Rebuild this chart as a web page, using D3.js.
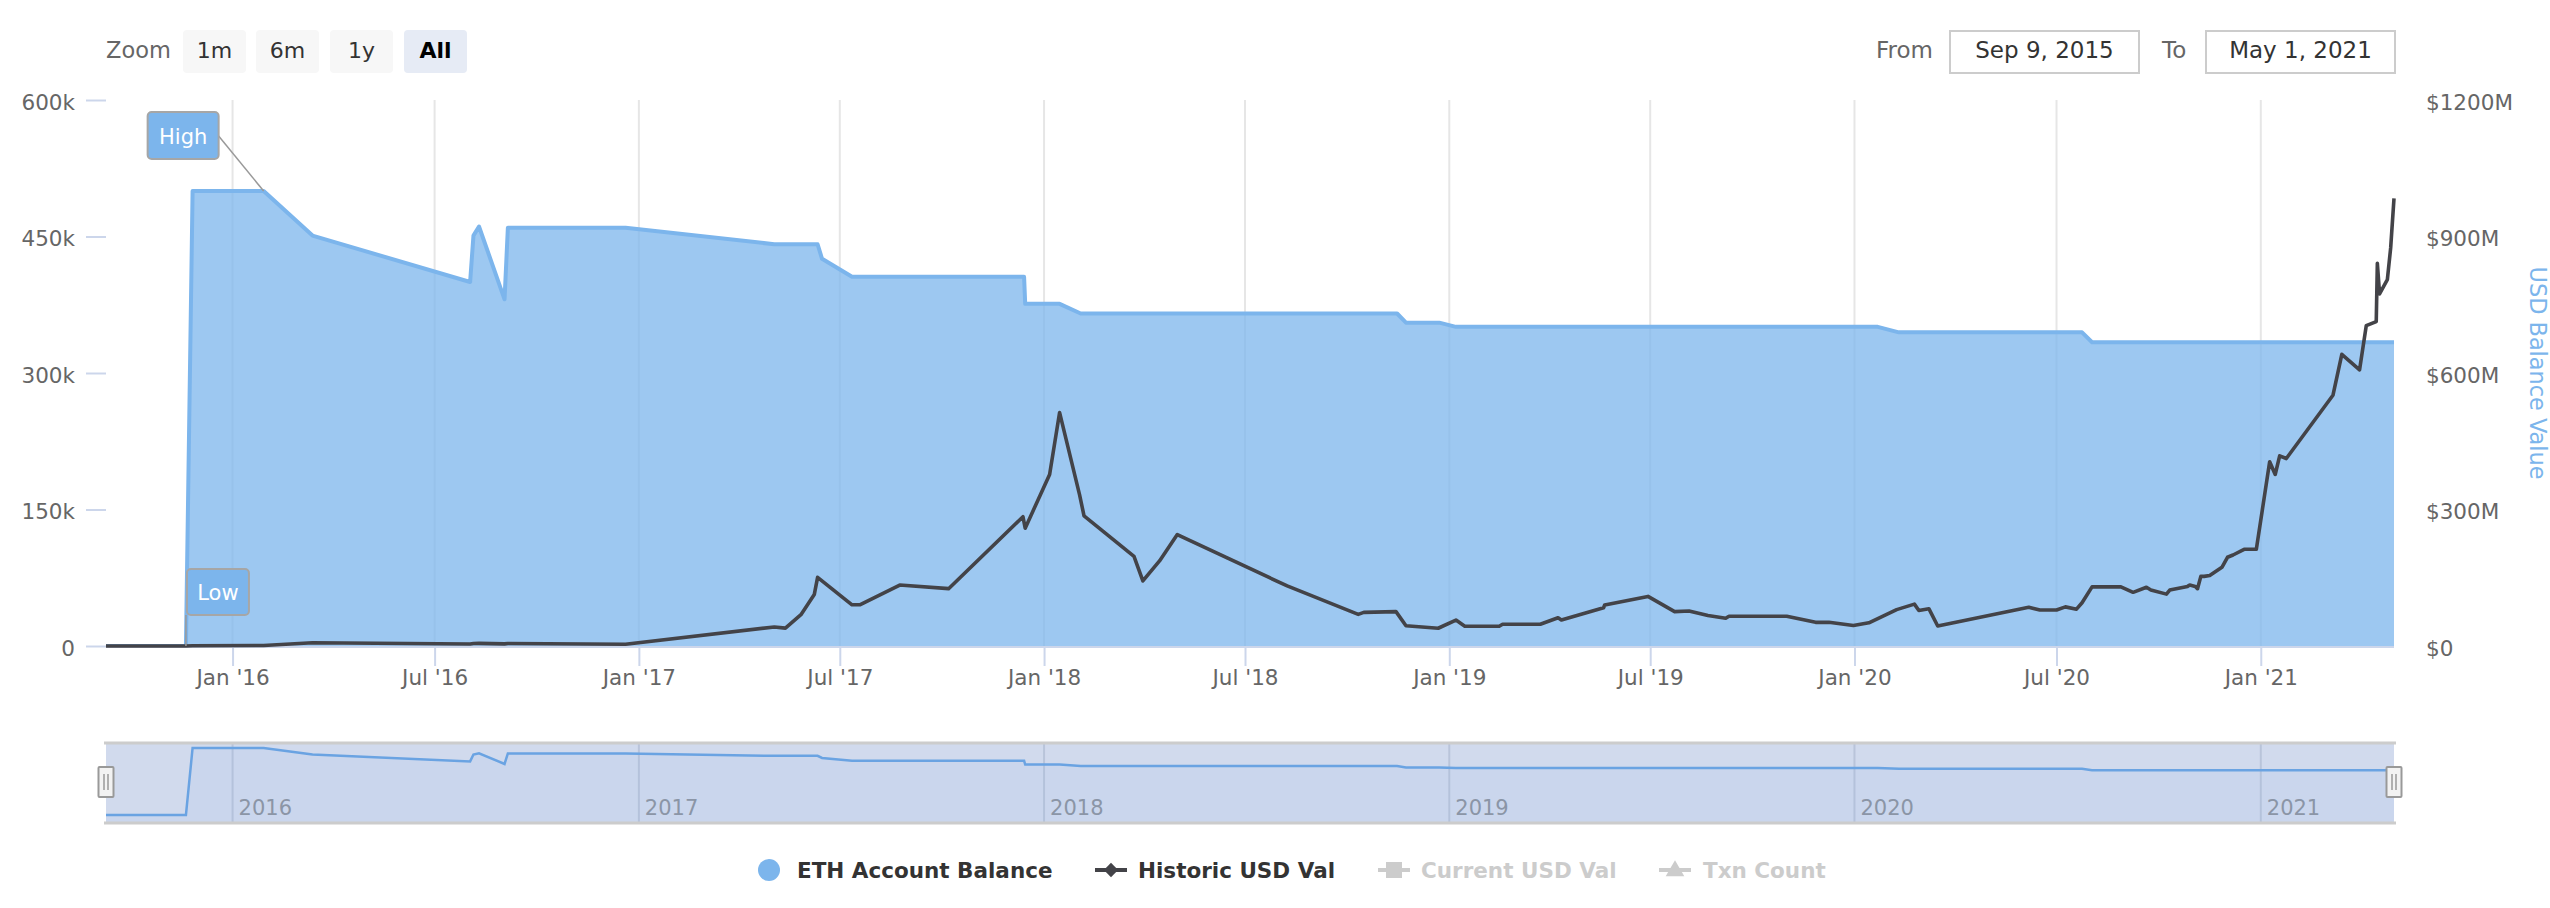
<!DOCTYPE html>
<html><head><meta charset="utf-8">
<script src="https://cdn.jsdelivr.net/npm/d3@7"></script>
<style>
html,body{margin:0;padding:0;background:#fff;}
svg{display:block;font-family:"DejaVu Sans",sans-serif;}
</style></head><body>
<svg id="chart" width="2550" height="908"></svg>
<script>
// ---------------- data ----------------
const ethDates = ["2015-09-09","2015-11-20","2015-11-26","2016-01-29","2016-03-13","2016-08-02","2016-08-05","2016-08-10","2016-09-02","2016-09-05","2016-12-20","2017-05-03","2017-06-11","2017-06-15","2017-07-12","2017-12-14","2017-12-15","2018-01-15","2018-02-03","2018-11-15","2018-11-23","2018-12-23","2019-01-07","2020-01-22","2020-02-10","2020-07-24","2020-08-02","2021-05-01"];
const ethValues = [0,0,500000,500000,451000,400000,451000,461000,381000,459500,459500,441500,441500,425500,405700,405700,376000,376000,365400,365400,355300,355300,350700,350700,344700,344700,333800,333800];

const usdDates = ["2015-09-09","2015-11-20","2015-11-26","2016-01-29","2016-03-13","2016-08-02","2016-08-05","2016-08-10","2016-09-02","2016-09-05","2016-12-20",
"2017-05-03","2017-05-13","2017-05-27","2017-06-08","2017-06-11","2017-07-12","2017-07-19","2017-08-24","2017-10-07","2017-12-13","2017-12-15",
"2018-01-06","2018-01-15","2018-02-02","2018-02-06","2018-03-23","2018-03-31","2018-04-15","2018-05-01","2018-08-08","2018-10-11","2018-10-16","2018-11-14","2018-11-23","2018-12-22",
"2019-01-07","2019-01-15","2019-02-15","2019-02-18","2019-03-24","2019-04-09","2019-04-12","2019-05-20","2019-05-21","2019-06-29","2019-07-23","2019-08-05","2019-08-22","2019-09-07","2019-09-10","2019-11-01","2019-11-27","2019-12-09","2019-12-31",
"2020-01-14","2020-02-08","2020-02-24","2020-02-28","2020-03-08","2020-03-16","2020-06-06","2020-06-16","2020-07-01","2020-07-09","2020-07-19","2020-07-24","2020-08-02","2020-08-28","2020-09-08","2020-09-20","2020-09-24","2020-10-08","2020-10-11","2020-10-27","2020-10-29","2020-11-03","2020-11-05","2020-11-08","2020-11-11","2020-11-16","2020-11-27","2020-12-02","2020-12-07","2020-12-17","2020-12-28",
"2021-01-09","2021-01-14","2021-01-18","2021-01-24","2021-03-07","2021-03-15","2021-03-31","2021-04-06","2021-04-15","2021-04-16","2021-04-18","2021-04-25","2021-04-28","2021-05-01"];
// USD value in millions
const usdValues = [0,0,0.5,1.2,7,4.5,5.5,5.8,4.6,5.6,4,
41.8,39.3,68.8,113,151,90.5,90.5,134,126,284,259,
377,513,332,286,197,143,187,245,132,69.6,73.8,75.6,44.4,39,
57,43.5,43.5,47.7,47.7,62,57,84,90,109,75.6,77,67,61,65.5,65.5,52,52,45,
51,80,92,78,82,44,85,79,79,86,81,95,130,130,118,129,123,114,123,131,134,131,126,153,153,155,173,195,200,212.5,212.5,
405,377,418,412,551,641,607,704,713,841,774,805,875,984];

const leftTicks = [0,150000,300000,450000,600000];
const leftTickLabels = ["0","150k","300k","450k","600k"];
const rightTicks = [0,300,600,900,1200];
const rightTickLabels = ["$0","$300M","$600M","$900M","$1200M"];
const navYearLabels = ["2016","2017","2018","2019","2020","2021"];
const zoomButtons = ["1m","6m","1y","All"];
const rangeLabels = ["From","To"];
const rangeValues = ["Sep 9, 2015","May 1, 2021"];
const legendNames = ["ETH Account Balance","Historic USD Val","Current USD Val","Txn Count"];
const rightAxisTitle = "USD Balance Value";
const annotationTexts = ["High","Low"];

// ---------------- setup ----------------
const parse = d3.utcParse("%Y-%m-%d");
const eth = ethDates.map((d,i)=>({date:parse(d), v:ethValues[i]}));
const usd = usdDates.map((d,i)=>({date:parse(d), v:usdValues[i]}));

const svg = d3.select("#chart");
const L = 106, R = 2394, T = 100, B = 646;
const x = d3.scaleUtc().domain([parse("2015-09-09"), parse("2021-05-01")]).range([L, R]);
const yL = d3.scaleLinear().domain([0,600000]).range([B, T]);
const yR = d3.scaleLinear().domain([0,1200]).range([B, T]);

const txtColor = "#666666";
const fs = 21.5;

// ---------------- range selector ----------------
const rs = svg.append("g");
rs.append("text").attr("x",106).attr("y",58).attr("fill",txtColor).attr("font-size",22.5).text("Zoom");
const btnX = [183,256,330,404];
zoomButtons.forEach((b,i)=>{
  const sel = b === "All";
  rs.append("rect").attr("x",btnX[i]).attr("y",30).attr("width",63).attr("height",43).attr("rx",4)
    .attr("fill", sel ? "#e6ebf5" : "#f7f7f7");
  rs.append("text").attr("x",btnX[i]+31.5).attr("y",58).attr("text-anchor","middle")
    .attr("font-size",22).attr("fill", sel ? "#000000" : "#333333").attr("font-weight", sel ? "bold" : "normal").text(b);
});
rs.append("text").attr("x",1876).attr("y",58).attr("fill",txtColor).attr("font-size",23).text(rangeLabels[0]);
rs.append("text").attr("x",2162).attr("y",58).attr("fill",txtColor).attr("font-size",23).text(rangeLabels[1]);
[[1950,rangeValues[0]],[2206,rangeValues[1]]].forEach(([bx,t])=>{
  rs.append("rect").attr("x",bx).attr("y",31).attr("width",189).attr("height",42)
    .attr("fill","#fff").attr("stroke","#cccccc").attr("stroke-width",2);
  rs.append("text").attr("x",bx+94.5).attr("y",58).attr("text-anchor","middle").attr("font-size",23)
    .attr("fill","#333333").text(t);
});

// ---------------- gridlines ----------------
const xTicks = x.ticks(d3.utcMonth.every(6));
svg.append("g").selectAll("line").data(xTicks).join("line")
  .attr("x1",d=>x(d)).attr("x2",d=>x(d)).attr("y1",T).attr("y2",B)
  .attr("stroke","#e6e6e6").attr("stroke-width",2);

// ---------------- series ----------------
const area = d3.area().x(d=>x(d.date)).y0(yL(0)).y1(d=>yL(d.v));
svg.append("path").datum(eth).attr("d",area).attr("fill","rgba(124,181,236,0.75)");
svg.append("path").datum(eth).attr("d",d3.line().x(d=>x(d.date)).y(d=>yL(d.v)))
  .attr("fill","none").attr("stroke","#7cb5ec").attr("stroke-width",4).attr("stroke-linejoin","round");

// x axis
const xAxis = d3.axisBottom(x).tickValues(xTicks).tickFormat(d3.utcFormat("%b '%y")).tickSize(20).tickPadding(4);
const gx = svg.append("g").attr("transform",`translate(0,${B})`).call(xAxis);
gx.select(".domain").remove();
gx.selectAll("line").attr("stroke","#ccd6eb").attr("stroke-width",2);
gx.selectAll("text").attr("fill",txtColor).attr("font-size",fs).attr("font-family","DejaVu Sans");
svg.append("line").attr("x1",L).attr("x2",R).attr("y1",B+1).attr("y2",B+1).attr("stroke","#ccd6eb").attr("stroke-width",2);

svg.append("path").datum(usd).attr("d",d3.line().x(d=>x(d.date)).y(d=>yR(d.v)))
  .attr("fill","none").attr("stroke","#434348").attr("stroke-width",3.6).attr("stroke-linejoin","round");

// left axis
const yAxisL = d3.axisLeft(yL).tickValues(leftTicks).tickFormat((d,i)=>leftTickLabels[i]).tickSize(20).tickPadding(11);
const gl = svg.append("g").attr("transform",`translate(${L},0)`).call(yAxisL);
gl.select(".domain").remove();
gl.selectAll("line").attr("stroke","#ccd6eb").attr("stroke-width",2);
gl.selectAll("text").attr("fill",txtColor).attr("font-size",fs).attr("font-family","DejaVu Sans").attr("dy","0.44em");

// right axis
const yAxisR = d3.axisRight(yR).tickValues(rightTicks).tickFormat((d,i)=>rightTickLabels[i]).tickSize(0).tickPadding(32);
const gr = svg.append("g").attr("transform",`translate(${R},0)`).call(yAxisR);
gr.select(".domain").remove();
gr.selectAll("text").attr("fill",txtColor).attr("font-size",fs).attr("font-family","DejaVu Sans").attr("dy","0.44em");
svg.append("text").attr("transform",`translate(2530,${(T+B)/2}) rotate(90)`).attr("text-anchor","middle")
  .attr("font-size",22.4).attr("fill","#7cb5ec").text(rightAxisTitle);

// ---------------- annotations ----------------
const maxV = d3.max(eth,d=>d.v);
let hiIdx = 0; eth.forEach((d,i)=>{ if(d.v===maxV) hiIdx=i; });
let loIdx = 0; eth.forEach((d,i)=>{ if(i<hiIdx && d.v===0) loIdx=i; });
const hp = eth[hiIdx], lp = eth[loIdx];
const hx = x(hp.date), hy = yL(hp.v), lx = x(lp.date), ly = yL(lp.v);
const ann = svg.append("g");
ann.append("path").attr("d",`M${hx-45},${hy-55}L${hx},${hy}`).attr("stroke","#999999").attr("stroke-width",1.5).attr("fill","none");
ann.append("rect").attr("x",hx-116).attr("y",hy-79).attr("width",71).attr("height",47).attr("rx",4)
  .attr("fill","#7cb5ec").attr("stroke","#a6a6a6").attr("stroke-width",2);
ann.append("text").attr("x",hx-80.5).attr("y",hy-47).attr("text-anchor","middle").attr("fill","#fff").attr("font-size",21).text(annotationTexts[0]);
ann.append("path").attr("d",`M${lx},${ly-31}L${lx},${ly}`).attr("stroke","#999999").attr("stroke-width",1.5).attr("fill","none");
ann.append("rect").attr("x",lx+1).attr("y",ly-77).attr("width",62).attr("height",46).attr("rx",4)
  .attr("fill","#7cb5ec").attr("stroke","#a6a6a6").attr("stroke-width",2);
ann.append("text").attr("x",lx+32).attr("y",ly-46).attr("text-anchor","middle").attr("fill","#fff").attr("font-size",21).text(annotationTexts[1]);

// ---------------- navigator ----------------
const nT = 743, nB = 823;
const yN = d3.scaleLinear().domain([0,500000]).range([815,748]);
const nav = svg.append("g");
nav.append("rect").attr("x",L).attr("y",nT).attr("width",R-L).attr("height",nB-nT).attr("fill","rgba(102,133,194,0.3)");
const navTicks = x.ticks(d3.utcYear.every(1));
nav.selectAll("line.g").data(navTicks).join("line").attr("class","g")
  .attr("x1",d=>x(d)).attr("x2",d=>x(d)).attr("y1",nT).attr("y2",nB).attr("stroke","#b9c4da").attr("stroke-width",2);
nav.selectAll("text.yl").data(navTicks).join("text").attr("class","yl")
  .attr("x",d=>x(d)+6).attr("y",815).attr("fill","#8c93a0").attr("font-size",21).text((d,i)=>navYearLabels[i]);
nav.append("path").datum(eth).attr("d",d3.area().x(d=>x(d.date)).y0(nB).y1(d=>yN(d.v))).attr("fill","rgba(124,181,236,0.08)");
nav.append("path").datum(eth).attr("d",d3.line().x(d=>x(d.date)).y(d=>yN(d.v)))
  .attr("fill","none").attr("stroke","#6aa3e2").attr("stroke-width",2.5);
nav.append("path").attr("d",`M${L-2},${nT}H${R+2}M${L-2},${nB}H${R+2}`).attr("stroke","#cccccc").attr("stroke-width",3);
[L, R].forEach(hx0=>{
  nav.append("rect").attr("x",hx0-7.5).attr("y",767).attr("width",15).attr("height",30).attr("rx",1)
    .attr("fill","#f2f2f2").attr("stroke","#999999").attr("stroke-width",2);
  nav.append("path").attr("d",`M${hx0-2},774V790M${hx0+2},774V790`).attr("stroke","#999999").attr("stroke-width",1.5);
});

// ---------------- legend ----------------
const lg = svg.append("g").attr("font-size",21.5).attr("font-weight","bold");
const lgY = 870;
lg.append("circle").attr("cx",769).attr("cy",lgY).attr("r",11).attr("fill","#7cb5ec");
lg.append("text").attr("x",797).attr("y",lgY+8).attr("fill","#333333").text(legendNames[0]);
lg.append("line").attr("x1",1095).attr("x2",1127).attr("y1",lgY).attr("y2",lgY).attr("stroke","#434348").attr("stroke-width",4);
lg.append("path").attr("d",d3.symbol(d3.symbolDiamond2,130)()).attr("transform",`translate(1111,${lgY})`).attr("fill","#434348");
lg.append("text").attr("x",1138).attr("y",lgY+8).attr("fill","#333333").text(legendNames[1]);
lg.append("line").attr("x1",1378).attr("x2",1410).attr("y1",lgY).attr("y2",lgY).attr("stroke","#cccccc").attr("stroke-width",4);
lg.append("rect").attr("x",1386).attr("y",lgY-8).attr("width",16).attr("height",16).attr("fill","#cccccc");
lg.append("text").attr("x",1421).attr("y",lgY+8).attr("fill","#cccccc").text(legendNames[2]);
lg.append("line").attr("x1",1659).attr("x2",1691).attr("y1",lgY).attr("y2",lgY).attr("stroke","#cccccc").attr("stroke-width",4);
lg.append("path").attr("d",d3.symbol(d3.symbolTriangle,150)()).attr("transform",`translate(1675,${lgY+1})`).attr("fill","#cccccc");
lg.append("text").attr("x",1703).attr("y",lgY+8).attr("fill","#cccccc").text(legendNames[3]);
</script>
</body></html>
